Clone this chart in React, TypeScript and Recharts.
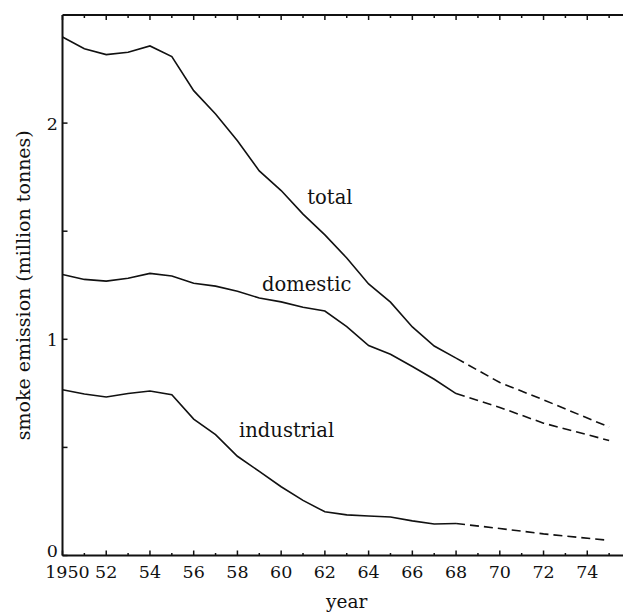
import React from 'react';
import { LineChart, Line, XAxis, YAxis, ReferenceDot } from 'recharts';

// ---- data ----
const YEARS = [1950, 1951, 1952, 1953, 1954, 1955, 1956, 1957, 1958, 1959, 1960, 1961, 1962, 1963, 1964, 1965, 1966, 1967, 1968];
const TOTAL = [2.398, 2.344, 2.317, 2.328, 2.357, 2.308, 2.15, 2.042, 1.918, 1.779, 1.688, 1.579, 1.483, 1.376, 1.256, 1.172, 1.057, 0.969, 0.913];
const DOMESTIC = [1.3, 1.277, 1.269, 1.282, 1.305, 1.293, 1.259, 1.246, 1.222, 1.191, 1.173, 1.148, 1.131, 1.059, 0.971, 0.931, 0.874, 0.815, 0.749];
const INDUSTRIAL = [0.767, 0.747, 0.733, 0.749, 0.761, 0.744, 0.631, 0.559, 0.459, 0.389, 0.318, 0.255, 0.202, 0.188, 0.183, 0.178, 0.16, 0.146, 0.148];

const PROJ_YEARS = [1968, 1970, 1972, 1975];
const TOTAL_PROJ = [0.913, 0.8, 0.72, 0.594];
const DOMESTIC_PROJ = [0.749, 0.685, 0.612, 0.532];
const INDUSTRIAL_PROJ = [0.148, 0.125, 0.1, 0.07];

const X_TICKS = [1950, 1951, 1952, 1953, 1954, 1955, 1956, 1957, 1958, 1959, 1960, 1961, 1962, 1963, 1964, 1965, 1966, 1967, 1968, 1969, 1970, 1971, 1972, 1973, 1974, 1975];
const X_LABEL_YEARS = [1950, 1952, 1954, 1956, 1958, 1960, 1962, 1964, 1966, 1968, 1970, 1972, 1974];
const X_LABELS = ['1950', '52', '54', '56', '58', '60', '62', '64', '66', '68', '70', '72', '74'];
const Y_TICKS = [0, 0.5, 1, 1.5, 2];
const Y_LABELS = ['0', '', '1', '', '2'];

// ---- layout ----
const CHART_W = 631;
const CHART_H = 613;
const Y_AXIS_W = 62.5;
const X_AXIS_H = 57.5;
const TOP = 15;
const AXIS_Y = CHART_H - X_AXIS_H;
const INK = '#111';
const FONT = '"DejaVu Serif", serif';

const allYears = Array.from(new Set([...YEARS, ...PROJ_YEARS])).sort((a, b) => a - b);
const rows = allYears.map((yr) => {
  const i = YEARS.indexOf(yr);
  const j = PROJ_YEARS.indexOf(yr);
  return {
    year: yr,
    total: i >= 0 ? TOTAL[i] : null,
    domestic: i >= 0 ? DOMESTIC[i] : null,
    industrial: i >= 0 ? INDUSTRIAL[i] : null,
    totalProj: j >= 0 ? TOTAL_PROJ[j] : null,
    domesticProj: j >= 0 ? DOMESTIC_PROJ[j] : null,
    industrialProj: j >= 0 ? INDUSTRIAL_PROJ[j] : null,
  };
});

const BottomTick = (props: any) => {
  const { x, payload } = props;
  const v = payload.value;
  const k = X_LABEL_YEARS.indexOf(v);
  const major = k >= 0;
  const len = major ? 5 : 2.5;
  return (
    <g>
      <path d={`M${x},${AXIS_Y}V${AXIS_Y - len}`} stroke={INK} strokeWidth={1.5} fill="none" />
      {major && (
        <text x={x + (k === 0 ? 5 : 0)} y={AXIS_Y + 22} textAnchor="middle" fontFamily={FONT} fontSize={17.5} fill={INK}>
          {X_LABELS[k]}
        </text>
      )}
    </g>
  );
};

const TopTick = (props: any) => {
  const { x, payload } = props;
  const major = X_LABEL_YEARS.indexOf(payload.value) >= 0;
  const len = major ? 5 : 3;
  return <path d={`M${x},${TOP}V${TOP + len}`} stroke={INK} strokeWidth={1.5} fill="none" />;
};

const LeftTick = (props: any) => {
  const { y, payload } = props;
  const v = payload.value;
  const k = Y_TICKS.indexOf(v);
  const lbl = k >= 0 ? Y_LABELS[k] : '';
  return (
    <g>
      <path d={`M${Y_AXIS_W},${y}H${Y_AXIS_W + 5}`} stroke={INK} strokeWidth={1.5} fill="none" />
      {lbl && (
        <text x={58} y={y + (v === 0 ? 1 : 6.4)} textAnchor="end" fontFamily={FONT} fontSize={17.5} fill={INK}>
          {lbl}
        </text>
      )}
    </g>
  );
};

const labelStyle = { fontFamily: FONT, fontSize: 19.5, fill: INK };

export default function App() {
  return (
    <div style={{ position: 'absolute', left: 0, top: 0, width: 623, height: 613, overflow: 'hidden', background: '#fff' }}>
      <LineChart width={CHART_W} height={CHART_H} data={rows} margin={{ top: TOP - 1, right: 0, bottom: 0, left: 0 }}>
        <XAxis
          dataKey="year"
          type="number"
          domain={[1950, 1976]}
          ticks={X_TICKS}
          interval={0}
          height={X_AXIS_H}
          tick={BottomTick}
          tickLine={false}
          axisLine={{ stroke: INK, strokeWidth: 2 }}
          allowDataOverflow
          label={{ value: 'year', position: 'insideBottom', offset: 5, style: { fontFamily: FONT, fontSize: 18.5, fill: INK } }}
        />
        <XAxis
          xAxisId="top"
          orientation="top"
          dataKey="year"
          type="number"
          domain={[1950, 1976]}
          ticks={X_TICKS}
          interval={0}
          height={1}
          tick={TopTick}
          tickLine={false}
          axisLine={{ stroke: INK, strokeWidth: 2 }}
          allowDataOverflow
        />
        <YAxis
          type="number"
          domain={[0, 2.5]}
          ticks={Y_TICKS}
          interval={0}
          width={Y_AXIS_W}
          tick={LeftTick}
          tickLine={false}
          axisLine={{ stroke: INK, strokeWidth: 2 }}
          allowDataOverflow
          label={{ value: 'smoke emission (million tonnes)', angle: -90, position: 'insideLeft', offset: 23, style: { textAnchor: 'middle', fontFamily: FONT, fontSize: 19, fill: INK } }}
        />
        <Line type="linear" dataKey="total" stroke={INK} strokeWidth={1.6} dot={false} isAnimationActive={false} />
        <Line type="linear" dataKey="domestic" stroke={INK} strokeWidth={1.6} dot={false} isAnimationActive={false} />
        <Line type="linear" dataKey="industrial" stroke={INK} strokeWidth={1.6} dot={false} isAnimationActive={false} />
        <Line type="linear" dataKey="totalProj" stroke={INK} strokeWidth={1.6} strokeDasharray="9 5" dot={false} isAnimationActive={false} />
        <Line type="linear" dataKey="domesticProj" stroke={INK} strokeWidth={1.6} strokeDasharray="9 5" dot={false} isAnimationActive={false} />
        <Line type="linear" dataKey="industrialProj" stroke={INK} strokeWidth={1.6} strokeDasharray="9 5" dot={false} isAnimationActive={false} />
        <ReferenceDot x={1962.23} y={1.66} r={0} fill="none" stroke="none" ifOverflow="visible" label={{ value: 'total', position: 'center', style: labelStyle }} />
        <ReferenceDot x={1961.17} y={1.254} r={0} fill="none" stroke="none" ifOverflow="visible" label={{ value: 'domestic', position: 'center', style: labelStyle }} />
        <ReferenceDot x={1960.25} y={0.58} r={0} fill="none" stroke="none" ifOverflow="visible" label={{ value: 'industrial', position: 'center', style: labelStyle }} />
      </LineChart>
    </div>
  );
}
